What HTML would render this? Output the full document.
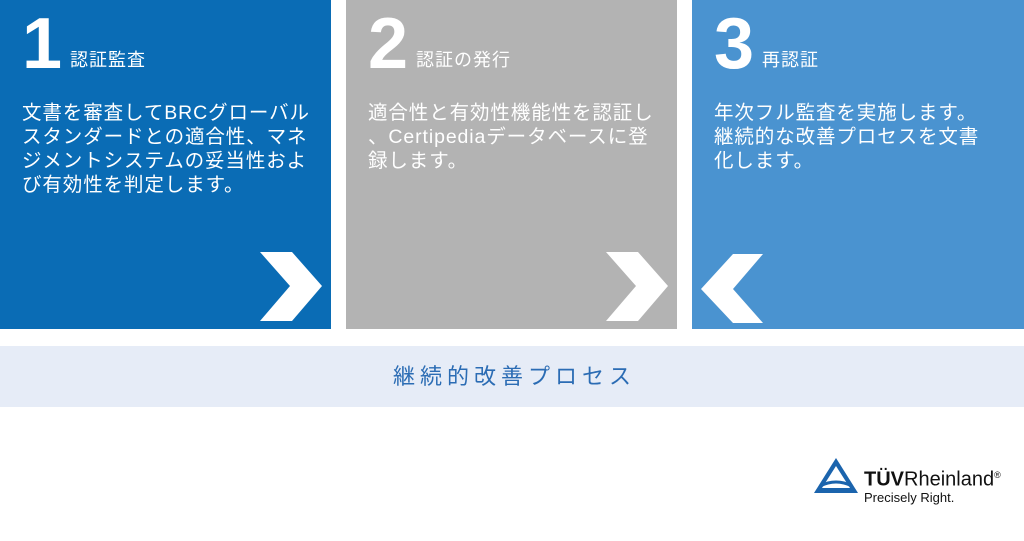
<!DOCTYPE html>
<html><head><meta charset="utf-8"><style>
body{margin:0;width:1024px;height:541px;background:#fff;position:relative;overflow:hidden;font-family:"Liberation Sans","Noto Sans CJK JP",sans-serif}
.p{position:absolute;top:0;height:329px;color:#fff}
.n{position:absolute;left:22px;top:8px;font-size:72px;font-weight:bold;line-height:72px}
.t{position:absolute;left:70px;top:46px;font-size:18px;letter-spacing:1px}
.b{position:absolute;left:22px;top:101px;font-size:19.5px;line-height:24px;white-space:nowrap;letter-spacing:0.9px}
svg{position:absolute;left:0;top:0}
</style></head><body>
<div class="p" style="left:0;width:331px;background:#0a6cb5"><div class="n">1</div><div class="t">認証監査</div><div class="b">文書を審査してBRCグローバル<br>スタンダードとの適合性、マネ<br>ジメントシステムの妥当性およ<br>び有効性を判定します。</div></div>
<div class="p" style="left:346px;width:331px;background:#b3b3b3"><div class="n">2</div><div class="t">認証の発行</div><div class="b">適合性と有効性機能性を認証し<br>、Certipediaデータベースに登<br>録します。</div></div>
<div class="p" style="left:692px;width:332px;background:#4a93d0"><div class="n">3</div><div class="t">再認証</div><div class="b">年次フル監査を実施します。<br>継続的な改善プロセスを文書<br>化します。</div></div>
<svg width="1024" height="541">
<polygon fill="#fff" points="260,252 292,252 322,286 292,321 260,321 290,286"/>
<polygon fill="#fff" points="606,252 638,252 668,286 638,321 606,321 636,286"/>
<polygon fill="#fff" points="733,254 763,254 733,289 763,323 733,323 701,289"/>
<polygon fill="#1b64ad" points="836,458 814,493 858,493" />
<polygon fill="#fff" points="836,466 822,488 850,488"/>
<path d="M820,486 Q836,478 852,486" stroke="#1b64ad" stroke-width="3" fill="none"/>
</svg>
<div style="position:absolute;left:0;top:346px;width:1024px;height:61px;background:#e6ecf7;color:#2b6cb4;font-size:22px;text-align:center;line-height:61px;letter-spacing:5px;text-indent:5px">継続的改善プロセス</div>
<div style="position:absolute;left:864px;top:464px;font-size:20px;color:#111;line-height:22px"><b>TÜV</b>Rheinland<sup style="font-size:9px">®</sup></div>
<div style="position:absolute;left:864px;top:490px;font-size:13px;color:#111">Precisely Right.</div>
</body></html>
